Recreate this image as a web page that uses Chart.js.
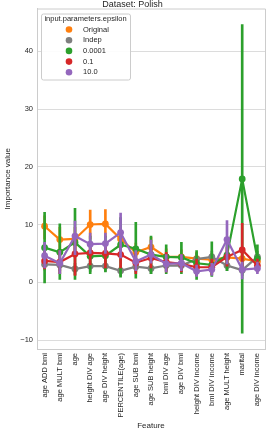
<!DOCTYPE html>
<html>
<head>
<meta charset="utf-8">
<script src="https://cdn.jsdelivr.net/npm/chart.js@4/dist/chart.umd.min.js"></script>
<style>
  html, body { margin: 0; padding: 0; background: #fff; }
</style>
</head>
<body>
<canvas id="grafico" width="274" height="439"></canvas>
<script>
// datos
const features = ['age ADD bmi', 'age MULT bmi', 'age', 'height DIV age', 'age DIV height',
  'PERCENTILE(age)', 'age SUB bmi', 'age SUB height', 'bmi DIV age', 'age DIV bmi',
  'height DIV income', 'bmi DIV income', 'age MULT height', 'marital', 'age DIV income'];

const seriesNames = ['Original', 'Indep', '0.0001', '0.1', '10.0'];
const yTicks = [-10, 0, 10, 20, 30, 40];

const original   = [9.7, 7.4, 7.5, 10.0, 10.1, 7.5, 5.2, 6.1, 4.4, 4.4, 4.1, 3.9, 4.3, 4.1, 3.6];
const originalLo = [7.5, 5.5, 5.5, 7.5, 7.8, 5.5, 3.5, 4.5, 3.0, 3.2, 3.0, 2.8, 3.2, 3.0, 2.5];
const originalHi = [11.5, 9.5, 9.5, 12.5, 12.6, 9.5, 6.8, 7.8, 5.8, 5.6, 5.2, 5.0, 5.4, 5.2, 4.7];

const indep   = [3.1, 3.0, 2.3, 2.8, 2.8, 2.0, 2.7, 2.4, 2.9, 2.9, 4.0, 4.4, 2.9, 2.1, 4.4];
const indepLo = [2.1, 2.0, 1.3, 1.9, 1.9, 1.1, 1.8, 1.5, 2.0, 2.0, 3.0, 3.4, 2.0, 1.2, 3.4];
const indepHi = [4.1, 4.0, 3.3, 3.7, 3.7, 2.9, 3.6, 3.3, 3.8, 3.8, 5.0, 5.4, 3.8, 3.0, 5.4];

const eps0001   = [6.0, 5.2, 6.9, 4.5, 4.6, 6.5, 5.8, 4.8, 4.4, 4.3, 3.3, 3.0, 4.7, 17.9, 4.1];
const eps0001Lo = [-0.1, 0.5, 0.5, 1.5, 1.8, 0.9, 0.7, 1.5, 1.5, 1.5, 0.5, 1.0, 2.0, -8.8, 2.0];
const eps0001Hi = [12.1, 10.1, 12.8, 8.0, 8.0, 11.2, 10.4, 8.0, 6.5, 6.9, 5.5, 7.0, 7.5, 44.6, 6.5];

const eps01   = [3.7, 3.5, 4.9, 5.1, 5.0, 4.8, 3.4, 4.2, 3.5, 3.2, 2.6, 2.6, 4.4, 5.6, 2.9];
const eps01Lo = [2.3, 1.5, 1.2, 3.0, 2.5, 2.5, 1.5, 2.5, 1.8, 1.8, 1.2, 1.3, 2.8, 2.5, 1.8];
const eps01Hi = [5.3, 5.5, 7.5, 7.0, 7.0, 6.5, 5.0, 6.2, 5.2, 4.8, 4.0, 4.0, 6.0, 10.2, 4.0];

const eps10   = [4.6, 3.3, 8.0, 6.6, 6.7, 8.6, 3.6, 4.8, 3.2, 3.3, 1.9, 2.2, 7.4, 2.2, 2.4];
const eps10Lo = [2.5, 1.5, 4.8, 5.0, 5.0, 4.2, 2.0, 3.3, 1.8, 2.0, 1.0, 1.2, 3.2, 0.6, 1.5];
const eps10Hi = [6.9, 5.5, 10.6, 8.5, 8.5, 12.0, 5.5, 7.3, 4.8, 4.8, 3.0, 3.3, 10.7, 3.5, 3.5];

const colores = ['#ff7f0e', '#7f7f7f', '#2ca02c', '#d62728', '#9467bd'];
const FAMILIA = "'Liberation Sans', Arial, sans-serif";
const TEXTO = '#262626';

const valores = [original, indep, eps0001, eps01, eps10];
const bajos = [originalLo, indepLo, eps0001Lo, eps01Lo, eps10Lo];
const altos = [originalHi, indepHi, eps0001Hi, eps01Hi, eps10Hi];

const datasets = [];
seriesNames.forEach((nombre, i) => {
  // barra de error como barra flotante
  datasets.push({
    type: 'bar',
    label: nombre + ' ci',
    data: bajos[i].map((lo, k) => [lo, altos[i][k]]),
    backgroundColor: colores[i],
    borderWidth: 0,
    barThickness: 2,
    grouped: false,
    order: 20 - 2 * i
  });
  datasets.push({
    type: 'line',
    label: nombre,
    data: valores[i],
    borderColor: colores[i],
    backgroundColor: colores[i],
    borderWidth: 2.2,
    pointRadius: 3.4,
    pointHoverRadius: 3.4,
    pointBorderWidth: 0,
    pointBackgroundColor: colores[i],
    tension: 0,
    order: 19 - 2 * i
  });
});

// marco del area y leyenda
const marco = {
  id: 'marco',
  afterDraw(chart) {
    const ctx = chart.ctx;
    const a = chart.chartArea;
    ctx.save();
    ctx.strokeStyle = '#cccccc';
    ctx.lineWidth = 1;
    ctx.beginPath();
    ctx.moveTo(a.left, a.top + 0.5);
    ctx.lineTo(a.right + 0.5, a.top + 0.5);
    ctx.lineTo(a.right + 0.5, a.bottom);
    ctx.stroke();

    const x0 = a.left + 4, y0 = a.top + 5, w = 89, h = 66;
    ctx.fillStyle = 'rgba(255,255,255,0.9)';
    ctx.strokeStyle = '#cccccc';
    ctx.beginPath();
    ctx.roundRect(x0 + 0.5, y0 + 0.5, w, h, 2);
    ctx.fill();
    ctx.stroke();

    ctx.fillStyle = TEXTO;
    ctx.font = '7.5px ' + FAMILIA;
    ctx.textBaseline = 'middle';
    ctx.textAlign = 'center';
    ctx.fillText('input.parameters.epsilon', x0 + w / 2, y0 + 5.5);
    ctx.textAlign = 'left';
    seriesNames.forEach((nombre, i) => {
      const y = y0 + 16 + i * 10.7;
      ctx.fillStyle = colores[i];
      ctx.beginPath();
      ctx.arc(x0 + 28, y, 3.3, 0, Math.PI * 2);
      ctx.fill();
      ctx.fillStyle = TEXTO;
      ctx.fillText(nombre, x0 + 42, y);
    });
    ctx.restore();
  }
};

const ctx = document.getElementById('grafico').getContext('2d');
const chart = new Chart(ctx, {
  data: { labels: features, datasets: datasets },
  options: {
    responsive: false,
    animation: false,
    layout: { padding: { left: 0, right: 9, top: 0, bottom: 0 } },
    plugins: {
      legend: { display: false },
      tooltip: { enabled: false },
      title: {
        display: true,
        text: 'Dataset: Polish',
        color: TEXTO,
        font: { family: FAMILIA, size: 9, weight: 'normal' },
        padding: { top: -2, bottom: -1 }
      }
    },
    scales: {
      x: {
        type: 'category',
        offset: true,
        grid: { display: false, drawTicks: false },
        border: { display: true, color: '#cccccc' },
        ticks: {
          color: TEXTO,
          font: { family: FAMILIA, size: 7.5 },
          minRotation: 90,
          maxRotation: 90,
          autoSkip: false,
          padding: 4
        },
        title: {
          display: true,
          text: 'Feature',
          color: TEXTO,
          font: { family: FAMILIA, size: 8 },
          padding: { top: 0, bottom: 8 }
        },
        afterFit: s => { s.height = 90; }
      },
      y: {
        min: -11.55,
        max: 47.4,
        afterBuildTicks: s => { s.ticks = yTicks.map(v => ({ value: v })); },
        grid: { color: '#dcdcdc', lineWidth: 1, drawTicks: false },
        border: { display: true, color: '#cccccc' },
        ticks: {
          color: TEXTO,
          font: { family: FAMILIA, size: 7.5 },
          padding: 4,
          callback: v => v < 0 ? '\u2212' + Math.abs(v) : String(v)
        },
        title: {
          display: true,
          text: 'Importance value',
          color: TEXTO,
          font: { family: FAMILIA, size: 8 },
          padding: { top: 3, bottom: 0 }
        },
        afterFit: s => { s.width = 37; }
      }
    }
  },
  plugins: [marco]
});
</script>
</body>
</html>
